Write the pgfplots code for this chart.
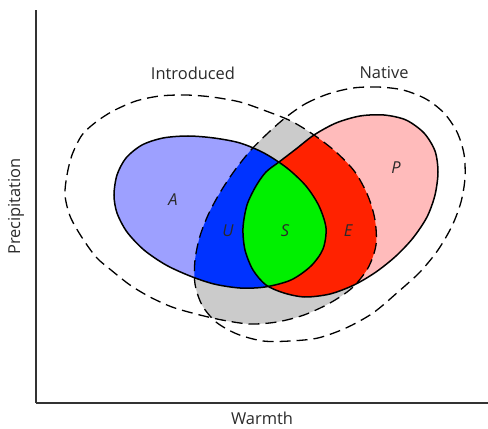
\documentclass[border=0pt]{standalone}
\usepackage{pgfplots}
\pgfplotsset{compat=1.18}
\usepackage{fontspec}
\setmainfont{Open Sans}
\definecolor{cgray}{HTML}{CBCBCB}
\definecolor{clb}{HTML}{9DA0FF}
\definecolor{cblue}{HTML}{0033FF}
\definecolor{cpink}{HTML}{FFBBBB}
\definecolor{cred}{HTML}{FF2200}
\definecolor{cgreen}{HTML}{00F000}
\definecolor{ctext}{HTML}{2A2A2A}
\begin{document}
\begin{tikzpicture}
\begin{axis}[
  name=ax,
  x=1bp, y=1bp,
  xmin=36, xmax=488, ymin=26, ymax=419,
  axis lines=left,
  axis line style={-, line width=1.3bp, black!80},
  xtick=\empty, ytick=\empty,
  xlabel={Warmth}, ylabel={Precipitation},
  label style={font=\fontsize{16.5}{20}\selectfont, text=ctext},
  xlabel style={at={(axis description cs:0.5,-0.038)}, anchor=center},
  ylabel style={at={(axis description cs:-0.044,0.5)}, anchor=center},
  clip=false,
]
% gray: introduced ∩ native
\begin{scope}
\clip plot[smooth cycle] coordinates {(65,234) (67,254) (72,274) (82,294) (96,307) (113,318) (136,328) (160,333) (186,334) (212,332) (240,327) (266,318) (291,308) (314,294) (336,277) (355,257) (368,233) (375,209) (376,184) (368,161) (352,141) (330,126) (304,114) (277,107) (250,105) (222,109) (196,115) (172,122) (150,132) (130,144) (111,159) (96,172) (81,193) (70,213)};
\addplot[fill=cgray, draw=none, smooth cycle] coordinates {(285,311) (305,325) (328,335) (353,341) (378,342) (403,339) (426,330) (444,316) (457,297) (464,275) (465,251) (461,227) (452,203) (438,179) (420,157) (398,137) (373,116) (346,101) (318,91) (290,88) (263,88) (237,95) (216,107) (202,124) (195,145) (195,169) (200,193) (209,216) (221,238) (235,259) (251,279) (268,296)};
\end{scope}
% A and P
\addplot[fill=clb, draw=none, smooth cycle] coordinates {(114,234) (117,254) (126,271) (142,284) (163,291) (188,293) (214,291) (240,286) (264,276) (287,261) (306,243) (319,223) (326,201) (323,180) (311,163) (291,149) (265,142) (240,141) (214,145) (190,153) (166,164) (144,179) (127,197) (117,216)};
\addplot[fill=cpink, draw=none, smooth cycle] coordinates {(279,267) (296,280) (314,294) (336,306) (360,313) (384,314) (406,309) (424,296) (435,278) (438,257) (435,234) (427,212) (413,191) (396,173) (376,157) (354,144) (330,135) (305,132) (284,136) (266,144) (253,159) (245,179) (243,201) (247,224) (256,243) (266,257)};
% U: A ∩ native
\begin{scope}
\clip plot[smooth cycle] coordinates {(285,311) (305,325) (328,335) (353,341) (378,342) (403,339) (426,330) (444,316) (457,297) (464,275) (465,251) (461,227) (452,203) (438,179) (420,157) (398,137) (373,116) (346,101) (318,91) (290,88) (263,88) (237,95) (216,107) (202,124) (195,145) (195,169) (200,193) (209,216) (221,238) (235,259) (251,279) (268,296)};
\addplot[fill=cblue, draw=none, smooth cycle] coordinates {(114,234) (117,254) (126,271) (142,284) (163,291) (188,293) (214,291) (240,286) (264,276) (287,261) (306,243) (319,223) (326,201) (323,180) (311,163) (291,149) (265,142) (240,141) (214,145) (190,153) (166,164) (144,179) (127,197) (117,216)};
\end{scope}
% E: P ∩ introduced
\begin{scope}
\clip plot[smooth cycle] coordinates {(65,234) (67,254) (72,274) (82,294) (96,307) (113,318) (136,328) (160,333) (186,334) (212,332) (240,327) (266,318) (291,308) (314,294) (336,277) (355,257) (368,233) (375,209) (376,184) (368,161) (352,141) (330,126) (304,114) (277,107) (250,105) (222,109) (196,115) (172,122) (150,132) (130,144) (111,159) (96,172) (81,193) (70,213)};
\addplot[fill=cred, draw=none, smooth cycle] coordinates {(279,267) (296,280) (314,294) (336,306) (360,313) (384,314) (406,309) (424,296) (435,278) (438,257) (435,234) (427,212) (413,191) (396,173) (376,157) (354,144) (330,135) (305,132) (284,136) (266,144) (253,159) (245,179) (243,201) (247,224) (256,243) (266,257)};
\end{scope}
% S: A ∩ P
\begin{scope}
\clip plot[smooth cycle] coordinates {(114,234) (117,254) (126,271) (142,284) (163,291) (188,293) (214,291) (240,286) (264,276) (287,261) (306,243) (319,223) (326,201) (323,180) (311,163) (291,149) (265,142) (240,141) (214,145) (190,153) (166,164) (144,179) (127,197) (117,216)};
\addplot[fill=cgreen, draw=none, smooth cycle] coordinates {(279,267) (296,280) (314,294) (336,306) (360,313) (384,314) (406,309) (424,296) (435,278) (438,257) (435,234) (427,212) (413,191) (396,173) (376,157) (354,144) (330,135) (305,132) (284,136) (266,144) (253,159) (245,179) (243,201) (247,224) (256,243) (266,257)};
\end{scope}
% outlines
\addplot[black, line width=1.3bp, dash pattern=on 11bp off 6bp, smooth cycle] coordinates {(65,234) (67,254) (72,274) (82,294) (96,307) (113,318) (136,328) (160,333) (186,334) (212,332) (240,327) (266,318) (291,308) (314,294) (336,277) (355,257) (368,233) (375,209) (376,184) (368,161) (352,141) (330,126) (304,114) (277,107) (250,105) (222,109) (196,115) (172,122) (150,132) (130,144) (111,159) (96,172) (81,193) (70,213)};
\addplot[black, line width=1.3bp, dash pattern=on 11bp off 6bp, smooth cycle] coordinates {(285,311) (305,325) (328,335) (353,341) (378,342) (403,339) (426,330) (444,316) (457,297) (464,275) (465,251) (461,227) (452,203) (438,179) (420,157) (398,137) (373,116) (346,101) (318,91) (290,88) (263,88) (237,95) (216,107) (202,124) (195,145) (195,169) (200,193) (209,216) (221,238) (235,259) (251,279) (268,296)};
\addplot[black, line width=1.5bp, smooth cycle] coordinates {(114,234) (117,254) (126,271) (142,284) (163,291) (188,293) (214,291) (240,286) (264,276) (287,261) (306,243) (319,223) (326,201) (323,180) (311,163) (291,149) (265,142) (240,141) (214,145) (190,153) (166,164) (144,179) (127,197) (117,216)};
\addplot[black, line width=1.5bp, smooth cycle] coordinates {(279,267) (296,280) (314,294) (336,306) (360,313) (384,314) (406,309) (424,296) (435,278) (438,257) (435,234) (427,212) (413,191) (396,173) (376,157) (354,144) (330,135) (305,132) (284,136) (266,144) (253,159) (245,179) (243,201) (247,224) (256,243) (266,257)};
% labels
\node[font=\fontsize{16.5}{20}\selectfont, text=ctext] at (axis cs:193,356) {Introduced};
\node[font=\fontsize{16.5}{20}\selectfont, text=ctext] at (axis cs:384,356) {Native};
\node[font=\fontsize{16.5}{20}\selectfont\itshape, text=ctext] at (axis cs:173,229) {A};
\node[font=\fontsize{16.5}{20}\selectfont\itshape, text=ctext] at (axis cs:228,198) {U};
\node[font=\fontsize{16.5}{20}\selectfont\itshape, text=ctext] at (axis cs:285,198) {S};
\node[font=\fontsize{16.5}{20}\selectfont\itshape, text=ctext] at (axis cs:348,198) {E};
\node[font=\fontsize{16.5}{20}\selectfont\itshape, text=ctext] at (axis cs:396,261) {P};
\end{axis}
\pgfresetboundingbox
\path[use as bounding box] ([xshift=-36bp,yshift=-26bp]ax.south west) rectangle ([xshift=452bp,yshift=403bp]ax.south west);
\end{tikzpicture}
\end{document}
